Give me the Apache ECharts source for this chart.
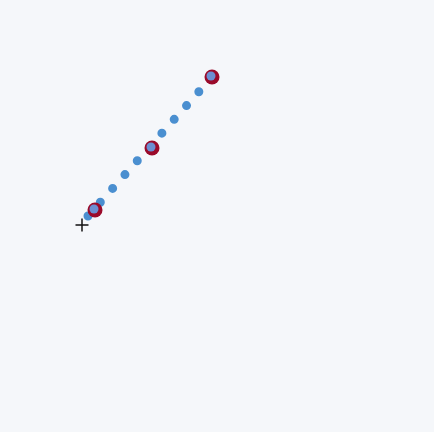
<!DOCTYPE html>
<html>
<head>
<meta charset="utf-8">
<script src="https://cdn.jsdelivr.net/npm/echarts@6/dist/echarts.min.js"></script>
<style>
  html, body { margin: 0; padding: 0; background: #f5f7fa; }
  #chart { width: 434px; height: 432px; }
</style>
</head>
<body>
<div id="chart"></div>
<script>
// stroke ends (screen-like units, y grows downward)
const lineX = [88, 212];
const lineY = [216, 77];
// clicked points
const pointX = [95, 152, 212];
const pointY = [210, 148, 77];
// crosshair cursor
const cursorX = [82];
const cursorY = [225];

const zip = (xs, ys) => xs.map((x, i) => [x, ys[i]]);

const chart = echarts.init(document.getElementById("chart"));

chart.setOption({
  backgroundColor: "#f5f7fa",
  animation: false,
  grid: { left: 0, right: 0, top: 0, bottom: 0 },
  xAxis: { type: "value", min: 0, max: 434, show: false },
  yAxis: { type: "value", min: 0, max: 432, inverse: true, show: false },
  series: [
    {
      type: "line",
      data: zip(lineX, lineY),
      showSymbol: false,
      lineStyle: {
        color: "#4a8fd0",
        width: 9,
        type: [0, 18.5],
        cap: "round",
        opacity: 1,
      },
      z: 1,
    },
    {
      type: "scatter",
      data: zip(pointX, pointY),
      symbolSize: 15,
      itemStyle: { color: "#9a0a2a", opacity: 1 },
      z: 2,
    },
    {
      type: "scatter",
      data: zip(pointX, pointY),
      symbolSize: 9,
      symbolOffset: [-1, -1],
      itemStyle: { color: "#6b8fd2", opacity: 1 },
      z: 3,
    },
    {
      type: "scatter",
      data: zip(cursorX, cursorY),
      symbol: "path://M5.4,0h1.4v13h-1.4zM0,5.8h12.2v1.4h-12.2z",
      symbolSize: 13,
      itemStyle: { color: "#111111", opacity: 1 },
      z: 4,
    },
  ],
});
</script>
</body>
</html>
